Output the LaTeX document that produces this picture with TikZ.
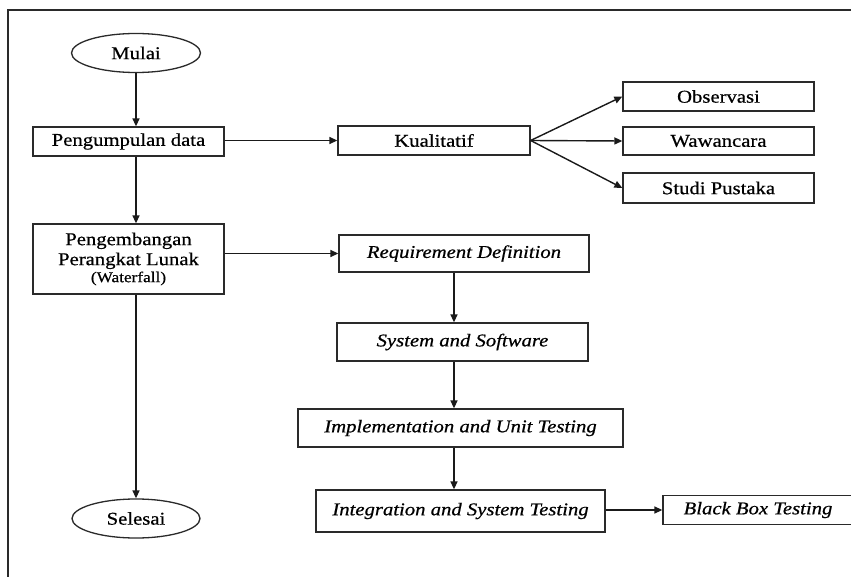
\documentclass[tikz,border=0pt]{standalone}
\usepackage{fontspec}
\setmainfont{Liberation Serif}[FakeStretch=1.15,FakeBold=0.6]
\usetikzlibrary{arrows.meta,shapes.geometric}
\definecolor{ln}{HTML}{1A1A1A}
\definecolor{bx}{HTML}{2A2A2A}
\begin{document}
\begin{tikzpicture}[x=1pt,y=-1pt,
  box/.style={draw=bx,line width=1.3pt,rectangle,inner sep=0pt,minimum width=191pt,minimum height=29pt,align=center,font=\fontsize{18}{20}\selectfont,text=black},
  ibox/.style={box,font=\fontsize{18}{20}\selectfont\itshape},
  term/.style={draw=bx,line width=1.3pt,ellipse,inner sep=0pt,minimum width=129pt,minimum height=39pt,font=\fontsize{18}{20}\selectfont},
  arr/.style={draw=ln,line width=1.4pt,-{Triangle[length=8pt,width=7pt]}},
  frame/.style={draw=bx,line width=1.3pt}]
\useasboundingbox (0,0) rectangle (851,577);
\clip (0,0) rectangle (851,577);
\fill[white] (0,0) rectangle (851,577);
% frame
\coordinate (ftl) at (8,10);
\coordinate (ftr) at (852,10);
\coordinate (fbl) at (8,578);
\draw[frame] (ftr) -- (ftl) -- (fbl);
% left column
\node[term] (mulai) at (136,53) {Mulai};
\node[box] (peng) at (128.5,141.5) {Pengumpulan data};
\node[box,minimum height=70pt] (dev) at (128.5,259) {Pengembangan\\Perangkat Lunak\\[-3pt]{\fontsize{15}{16}\selectfont (Waterfall)}};
\node[term,minimum width=128pt] (selesai) at (136,518.5) {Selesai};
% data collection
\node[box,minimum width=192pt] (kual) at (434,140.5) {Kualitatif};
\node[box] (obs) at (718.5,96.5) {Observasi};
\node[box,minimum height=28pt] (waw) at (718.5,141) {Wawancara};
\node[box,minimum height=30pt] (studi) at (718.5,188) {Studi Pustaka};
% waterfall
\node[ibox,minimum width=250pt,minimum height=37pt] (req) at (464,253.5) {Requirement Definition};
\node[ibox,minimum width=251pt,minimum height=38pt] (sys) at (462.5,342) {System and Software};
\node[ibox,minimum width=325pt,minimum height=38pt] (impl) at (460.5,428) {Implementation and Unit Testing};
\node[ibox,minimum width=289pt,minimum height=42pt] (integ) at (460.5,511) {Integration and System Testing};
\node[ibox,minimum width=190pt,minimum height=29pt] (bb) at (758,510) {Black Box Testing};
% connectors
\draw[arr] (mulai.south) -- (mulai.south |- peng.north);
\draw[arr] (mulai.south |- peng.south) -- (mulai.south |- dev.north);
\draw[arr] (selesai.north |- dev.south) -- (selesai.north);
\draw[arr] (peng.east |- kual.west) -- (kual.west);
\draw[arr] (kual.east) -- (obs.west);
\draw[arr] (kual.east) -- (waw.west);
\draw[arr] (kual.east) -- (studi.west);
\draw[arr] (dev.east |- req.west) -- (req.west);
\draw[arr] ([xshift=-10pt]req.south) -- ([xshift=-10pt]req.south |- sys.north);
\draw[arr] ([xshift=-8.5pt]sys.south) -- ([xshift=-8.5pt]sys.south |- impl.north);
\draw[arr] ([xshift=-6.5pt]impl.south) -- ([xshift=-6.5pt]impl.south |- integ.north);
\draw[arr] (integ.east |- bb.west) -- (bb.west);
\end{tikzpicture}
\end{document}
